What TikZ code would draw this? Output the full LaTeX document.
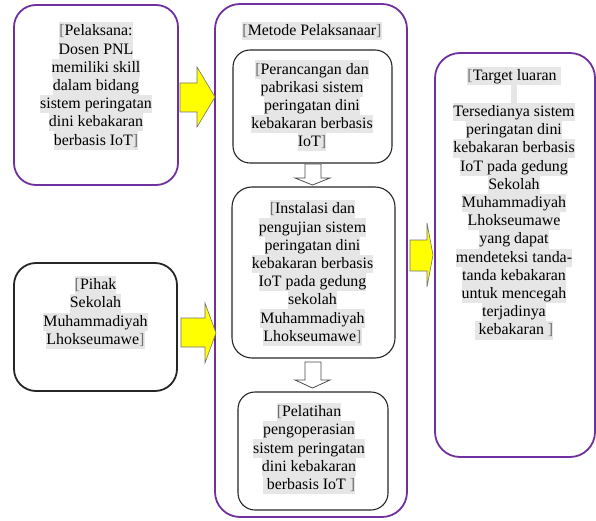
\documentclass[tikz,border=0pt]{standalone}
\usepackage{fontspec}
\setmainfont{Liberation Serif}
\definecolor{wpurple}{HTML}{7030A0}
\definecolor{hlg}{HTML}{E6E6E6}
\definecolor{brk}{HTML}{6E6E6E}
\definecolor{yel}{HTML}{FFFF00}
\setlength\fboxsep{0pt}
\newcommand\hlline[1]{\colorbox{hlg}{\rule[-4.6pt]{0pt}{18.2pt}#1}}
\newcommand\lbk{{\color{brk}[}}
\newcommand\rbk{{\color{brk}]}}
\tikzset{
  outerbox/.style={draw=wpurple, line width=1.8pt, rounded corners=22pt, inner sep=0pt},
  blackbox/.style={draw=black!85, line width=1.8pt, rounded corners=22pt, inner sep=0pt},
  innerbox/.style={draw=black!85, line width=1.1pt, rounded corners=17pt, inner sep=0pt},
  txt/.style={align=center, inner sep=0pt, font=\fontsize{15.9}{18.2}\selectfont, text=black},
  yarrow/.style={fill=yel, draw=black!55, line width=0.6pt, line join=miter},
  harrow/.style={fill=white, draw=black!70, line width=0.8pt, line join=miter}
}
\begin{document}
\begin{tikzpicture}[x=1pt,y=-1pt]
\useasboundingbox (0,0) rectangle (596,521);
% boxes
\node[outerbox, minimum width=164pt, minimum height=180pt] (pel) at (96,95) {};
\node[blackbox, minimum width=163pt, minimum height=128pt] (pih) at (95.5,327) {};
\node[outerbox, rounded corners=25pt, minimum width=192pt, minimum height=513pt] (met) at (311,260.5) {};
\node[innerbox, minimum width=159pt, minimum height=113pt] (ba) at (312.5,106.5) {};
\node[innerbox, rounded corners=20pt, minimum width=163pt, minimum height=171pt] (bb) at (313.5,272.5) {};
\node[innerbox, minimum width=150pt, minimum height=118pt] (bc) at (313,451) {};
\node[outerbox, rounded corners=25pt, minimum width=160pt, minimum height=404pt] (tar) at (515,255) {};
% texts
\node[txt] (tpel) at (96,86) {\hlline{\lbk Pelaksana:}\\\hlline{Dosen PNL}\\\hlline{memiliki skill}\\\hlline{dalam bidang}\\\hlline{sistem peringatan}\\\hlline{dini kebakaran}\\\hlline{berbasis IoT\rbk}};
\node[txt] (tpih) at (95.5,312.5) {\hlline{\lbk Pihak}\\\hlline{Sekolah}\\\hlline{Muhammadiyah}\\\hlline{Lhokseumawe\rbk}};
\node[txt] (tmet) at (312,31) {\hlline{\lbk Metode Pelaksanaar\rbk}};
\node[txt] (tba) at (312,106) {\hlline{\lbk Perancangan dan}\\\hlline{pabrikasi sistem}\\\hlline{peringatan dini}\\\hlline{kebakaran berbasis}\\\hlline{IoT\rbk}};
\node[txt] (tbb) at (312.5,273) {\hlline{\lbk Instalasi dan}\\\hlline{pengujian sistem}\\\hlline{peringatan dini}\\\hlline{kebakaran berbasis}\\\hlline{IoT pada gedung}\\\hlline{sekolah}\\\hlline{Muhammadiyah}\\\hlline{Lhokseumawe\rbk}};
\node[txt] (tbc) at (309,448.5) {\hlline{\lbk Pelatihan}\\\hlline{pengoperasian}\\\hlline{sistem peringatan}\\\hlline{dini kebakaran}\\\hlline{\ berbasis IoT \rbk}};
\node[txt] (ttar) at (514,203) {\hlline{\lbk Target luaran\ }\\\hlline{\hspace{6pt}}\\\hlline{Tersedianya sistem}\\\hlline{peringatan dini}\\\hlline{kebakaran berbasis}\\\hlline{IoT pada gedung}\\\hlline{Sekolah}\\\hlline{Muhammadiyah}\\\hlline{Lhokseumawe}\\\hlline{yang dapat}\\\hlline{mendeteksi tanda-}\\\hlline{tanda kebakaran}\\\hlline{untuk mencegah}\\\hlline{terjadinya}\\\hlline{\ kebakaran \rbk}};
% yellow block arrows
\draw[yarrow] (180,83) -- (197,83) -- (197,67) -- (215,97) -- (197,127) -- (197,112) -- (180,112) -- cycle;
\draw[yarrow] (181,318) -- (205,318) -- (205,303) -- (216,333) -- (205,363) -- (205,347) -- (181,347) -- cycle;
\draw[yarrow] (410,240) -- (427,240) -- (427,223) -- (433,255) -- (427,287) -- (427,271) -- (410,271) -- cycle;
% hollow down arrows
\draw[harrow] (305,164) -- (321,164) -- (321,178) -- (330,178) -- (312.5,185) -- (295,178) -- (305,178) -- cycle;
\draw[harrow] (305,362) -- (321,362) -- (321,380) -- (330,380) -- (312.5,388) -- (295,380) -- (305,380) -- cycle;
\end{tikzpicture}
\end{document}
